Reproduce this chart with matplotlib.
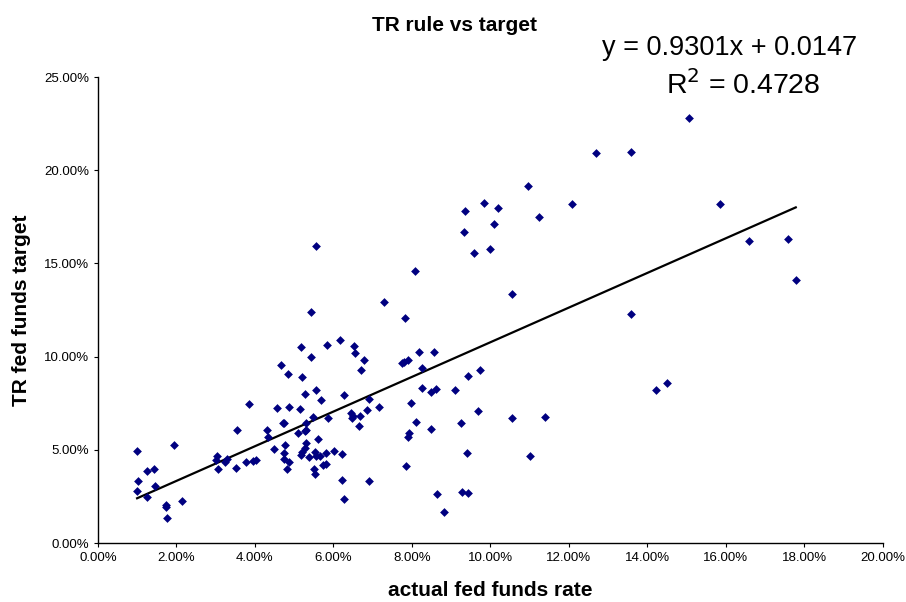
import matplotlib
matplotlib.use("Agg")
import matplotlib.pyplot as plt
from matplotlib.ticker import FuncFormatter, MultipleLocator
import numpy as np

# actual fed funds rate (%) and Taylor-rule target (%)
actual_rate = [
    1.01, 1.95, 1.02, 1.00, 1.25, 1.44, 1.45, 1.26, 1.74, 1.74, 1.76, 2.14,
    3.04, 3.01, 3.07, 3.24, 3.29, 3.51, 3.55, 3.77, 3.95, 4.04, 3.86, 4.30,
    4.33, 4.49, 4.57, 4.72, 4.76, 4.75, 4.75, 4.87, 4.82, 5.10, 5.29, 5.61,
    5.31, 5.27, 5.21, 5.17, 5.37, 5.53, 5.55, 5.66, 5.82, 6.02, 6.22, 5.74,
    5.81, 5.51, 5.53, 6.21, 6.92, 6.27, 7.84, 7.89, 7.93, 5.43, 7.29, 7.82,
    5.17, 5.83, 6.17, 6.52, 6.55, 6.77, 6.70, 5.42, 4.67, 4.84, 5.21, 5.57,
    5.29, 5.68, 6.28, 6.92, 4.87, 5.15, 5.49, 5.87, 6.44, 6.51, 6.47, 6.68,
    6.85, 7.16, 6.66, 4.75, 5.30, 5.30, 7.75, 7.81, 7.89, 8.17, 8.57, 8.25,
    8.25, 8.48, 8.61, 9.09, 9.43, 7.98, 8.10, 8.48, 9.26, 9.41, 8.65, 9.28,
    9.43, 9.73, 9.69, 10.56, 11.39, 11.01, 8.81, 10.95, 9.84, 10.19, 9.36,
    12.09, 11.25, 10.08, 9.32, 9.99, 9.59, 10.56, 8.08, 5.55, 15.06, 12.70,
    13.58, 13.59, 15.86, 16.58, 17.58, 17.78, 14.22, 14.50,
]
tr_target = [
    4.95, 5.26, 3.33, 2.79, 3.86, 3.97, 3.04, 2.48, 2.02, 1.95, 1.32, 2.25,
    4.68, 4.45, 3.99, 4.36, 4.49, 4.04, 6.08, 4.36, 4.42, 4.45, 7.44, 6.05,
    5.69, 5.04, 7.23, 6.42, 5.27, 4.81, 4.49, 4.33, 3.95, 5.88, 6.01, 5.56,
    5.35, 5.08, 4.90, 4.72, 4.63, 4.87, 4.68, 4.68, 4.81, 4.92, 4.79, 4.20,
    4.22, 3.97, 3.68, 3.38, 3.33, 2.36, 4.13, 5.70, 5.92, 12.39, 12.91, 12.05,
    10.53, 10.61, 10.89, 10.57, 10.18, 9.82, 9.26, 9.96, 9.55, 9.07, 8.89, 8.21,
    7.99, 7.67, 7.94, 7.71, 7.31, 7.17, 6.78, 6.69, 6.95, 6.80, 6.70, 6.81,
    7.14, 7.28, 6.29, 6.44, 6.42, 6.06, 9.64, 9.73, 9.80, 10.23, 10.26, 9.39,
    8.32, 8.10, 8.28, 8.21, 8.96, 7.49, 6.51, 6.12, 6.42, 4.81, 2.63, 2.75,
    2.70, 9.28, 7.10, 6.72, 6.76, 4.69, 1.65, 19.17, 18.26, 17.99, 17.81,
    18.20, 17.49, 17.11, 16.70, 15.77, 15.54, 13.37, 14.57, 15.93, 22.78, 20.94,
    20.99, 12.27, 18.17, 16.20, 16.29, 14.11, 8.21, 8.58,
]

# trendline as reported on the chart
slope = 0.9301
intercept = 0.0147
r_squared = 0.4728

x = np.array(actual_rate) / 100
y = np.array(tr_target) / 100

plt.rcParams["font.family"] = ["Liberation Sans", "DejaVu Sans"]

fig = plt.figure(figsize=(9.06, 6.02), dpi=100)
ax = fig.add_axes([0.108, 0.098, 0.8665, 0.774])

ax.scatter(x, y, marker="D", s=20, color="#000080", linewidths=0, zorder=3)

xs = np.array([x.min(), x.max()])
ax.plot(xs, slope * xs + intercept, color="black", linewidth=1.6, zorder=2)

ax.set_xlim(0, 0.20)
ax.set_ylim(0, 0.25)
ax.xaxis.set_major_locator(MultipleLocator(0.02))
ax.yaxis.set_major_locator(MultipleLocator(0.05))
pct = FuncFormatter(lambda v, _: f"{v * 100:.2f}%")
ax.xaxis.set_major_formatter(pct)
ax.yaxis.set_major_formatter(pct)
ax.tick_params(axis="both", labelsize=9.5, direction="out", length=3, width=0.8)

for side in ("top", "right"):
    ax.spines[side].set_visible(False)
for side in ("left", "bottom"):
    ax.spines[side].set_linewidth(1.0)

ax.set_xlabel("actual fed funds rate", fontsize=15, fontweight="bold")
ax.set_ylabel("TR fed funds target", fontsize=15, fontweight="bold")
ax.xaxis.set_label_coords(0.5, -0.082)
ax.yaxis.set_label_coords(-0.085, 0.5)

fig.text(0.502, 0.957, "TR rule vs target", ha="center", va="center",
         fontsize=15, fontweight="bold")
fig.text(0.805, 0.92, f"y = {slope:.4f}x + {intercept:.4f}", ha="center",
         va="center", fontsize=19.5)
fig.text(0.82, 0.858, f"R$^2$ = {r_squared:.4f}", ha="center", va="center",
         fontsize=20.5)

fig.savefig("out.png", dpi=100)
